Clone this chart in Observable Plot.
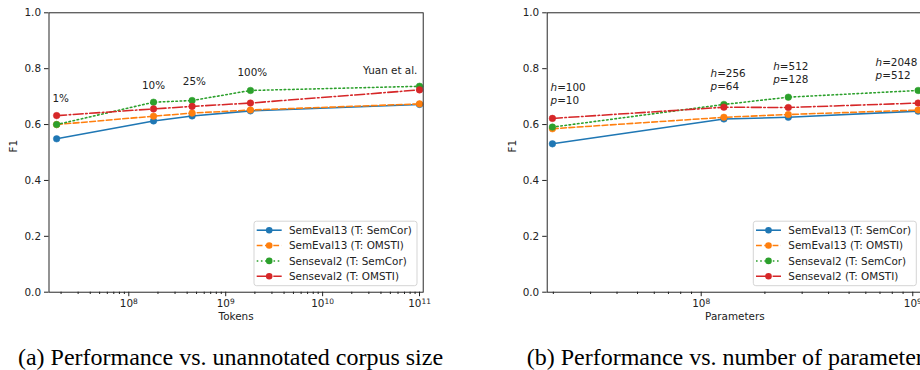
<!DOCTYPE html>
<html><head><meta charset="utf-8">
<script src="https://cdn.jsdelivr.net/npm/d3@7"></script>
<script src="https://cdn.jsdelivr.net/npm/@observablehq/plot@0.6"></script>
<style>
html,body{margin:0;padding:0;overflow:hidden;background:#fff;}
#wrap{position:relative;width:920px;height:370px;overflow:hidden;}
.panel{position:absolute;top:0;}
.panel svg{max-width:none !important;}
.cap{position:absolute;top:345px;font-family:"Liberation Serif","Times New Roman",serif;font-size:24px;line-height:24px;white-space:nowrap;color:#000;}
</style></head>
<body><div id="wrap"></div>
<script>
// ---- data ----
const seriesNames = ["SemEval13 (T: SemCor)", "SemEval13 (T: OMSTI)", "Senseval2 (T: SemCor)", "Senseval2 (T: OMSTI)"];
const seriesColors = ["#1f77b4", "#ff7f0e", "#2ca02c", "#d62728"];
const seriesDash = [undefined, "5.8,2.5", "1.6,2.6", "10,2.5,1.6,2.5"];

const tokens = [1.8e7, 1.8e8, 4.5e8, 1.8e9, 1e11];
const tokenSemEvalSemCor = [0.549, 0.613, 0.631, 0.649, 0.672];
const tokenSemEvalOMSTI  = [0.600, 0.630, 0.641, 0.652, 0.674];
const tokenSensevalSemCor = [0.600, 0.680, 0.686, 0.722, 0.737];
const tokenSensevalOMSTI  = [0.632, 0.656, 0.665, 0.677, 0.724];
const tokenLabels = ["1%", "10%", "25%", "100%", "Yuan et al."];
const tokenLabelX = [1.98e7, 1.8e8, 4.75e8, 1.88e9, 4.98e10];
const tokenLabelY = [0.697, 0.743, 0.757, 0.790, 0.797];

const params = [1.98e7, 1.28e8, 2.58e8, 1.06e9];
const paramSemEvalSemCor = [0.531, 0.620, 0.626, 0.648];
const paramSemEvalOMSTI  = [0.585, 0.626, 0.636, 0.652];
const paramSensevalSemCor = [0.591, 0.672, 0.698, 0.722];
const paramSensevalOMSTI  = [0.622, 0.662, 0.661, 0.677];
const paramLabels = ["h=100\np=10", "h=256\np=64", "h=512\np=128", "h=2048\np=512"];
const paramLabelX = [1.94e7, 1.107e8, 2.19e8, 6.67e8];
const paramLabelY = [0.713, 0.763, 0.788, 0.802];

const yTicks = [0, 0.2, 0.4, 0.6, 0.8, 1.0];
const tokenTicks = [1e8, 1e9, 1e10, 1e11];
const paramTicks = [1e8, 1e9];
const tokenDomain = [Math.pow(10, 7.1765), Math.pow(10, 11.038)];
const paramDomain = [Math.pow(10, 7.272), Math.pow(10, 9.046)];
const xLabels = ["Tokens", "Parameters"];
const yLabel = "F1";
const captions = ["(a) Performance vs. unannotated corpus size", "(b) Performance vs. number of parameters"];

// ---- helpers ----
const fmtPow = d => "10^" + Math.round(Math.log10(d));
function minorTicks(domain) {
  const out = [];
  const k0 = Math.floor(Math.log10(domain[0])), k1 = Math.ceil(Math.log10(domain[1]));
  for (let k = k0; k <= k1; k++) for (let m = 2; m <= 9; m++) {
    const v = m * Math.pow(10, k);
    if (v >= domain[0] && v <= domain[1]) out.push(v);
  }
  return out;
}
const FONT = "DejaVu Sans, sans-serif";
const FS = 10.4;
const H = 340, MT = 12.3, MB = 48.3;

function panel(cfg) {
  const rows = [];
  cfg.ys.forEach((arr, si) => arr.forEach((v, i) => rows.push({s: si, x: cfg.xs[i], y: v})));
  const ann = cfg.labels.map((t, i) => ({t, x: cfg.labelX[i], y: cfg.labelY[i]}));
  const seriesMarks = [];
  seriesNames.forEach((n, si) => {
    const d = rows.filter(r => r.s === si);
    seriesMarks.push(Plot.line(d, {x: "x", y: "y", stroke: seriesColors[si], strokeWidth: 1.55, strokeDasharray: seriesDash[si]}));
    seriesMarks.push(Plot.dot(d, {x: "x", y: "y", r: 3.3, fill: seriesColors[si], stroke: seriesColors[si], strokeWidth: 0.5}));
  });
  const svg = Plot.plot({
    width: cfg.width, height: H,
    marginLeft: cfg.marginLeft, marginRight: cfg.marginRight, marginTop: MT, marginBottom: MB,
    style: {fontFamily: FONT, fontSize: FS + "px", color: "#222", background: "transparent", overflow: "visible", maxWidth: "none"},
    x: {type: "log", domain: cfg.xDomain},
    y: {domain: [0, 1]},
    marks: [
      ...seriesMarks,
      Plot.text(ann, {x: "x", y: "y", text: "t", textAnchor: cfg.anchor, lineAnchor: "middle", lineHeight: 1.25, fill: "#222"}),
      Plot.frame({stroke: "#111", strokeWidth: 0.9}),
      Plot.axisY({ticks: yTicks, tickFormat: d => d.toFixed(1), tickSize: 4.5, tickPadding: 3.5, label: null}),
      Plot.axisX({ticks: minorTicks(cfg.xDomain), tickFormat: () => "", tickSize: 2.3, label: null}),
      Plot.axisX({ticks: cfg.majors, tickFormat: fmtPow, tickSize: 4.5, tickPadding: 3, label: null}),
      Plot.text([cfg.xLabel], {frameAnchor: "bottom", dy: 28, text: d => d, fill: "#222"}),
      Plot.text([yLabel], {frameAnchor: "left", dx: cfg.yLabelDx, rotate: -90, text: d => d, fill: "#222"})
    ]
  });
  svg.style.maxWidth = "none";
  svg.setAttribute("width", cfg.width);
  svg.setAttribute("height", H);
  // italic math letters (h, p)
  d3.select(svg).selectAll("tspan").each(function() {
    const m = this.textContent.match(/^([hp])(=.*)$/);
    if (m) {
      const s = d3.select(this);
      s.text("");
      s.append("tspan").attr("font-style", "italic").text(m[1]);
      s.append("tspan").text(m[2]);
    }
  });
  // power-of-ten tick labels with real superscripts
  d3.select(svg).selectAll("text").each(function() {
    if (this.childElementCount) return;
    const m = this.textContent.match(/^10\^(\d+)$/);
    if (m) {
      const s = d3.select(this);
      s.text("");
      s.append("tspan").text("10");
      s.append("tspan").attr("font-size", "72%").attr("dy", "-0.42em").text(m[1]);
    }
  });
  // legend
  const fr = cfg.width - cfg.marginRight, fb = H - MB;
  const bw = 163, bh = 64.5;
  const bx = fr - 5.7 - bw, by = fb - 6 - bh;
  const g = d3.select(svg).append("g").attr("font-family", FONT).attr("font-size", FS).attr("text-anchor", "start");
  g.append("rect").attr("x", bx).attr("y", by).attr("width", bw).attr("height", bh)
    .attr("rx", 2.5).attr("fill", "#fff").attr("fill-opacity", 0.8).attr("stroke", "#d0d0d0").attr("stroke-width", 0.9);
  seriesNames.forEach((n, i) => {
    const cy = by + 9 + i * 15.35;
    const ln = g.append("line").attr("x1", bx + 2.7).attr("x2", bx + 27.7).attr("y1", cy).attr("y2", cy)
      .attr("stroke", seriesColors[i]).attr("stroke-width", 1.55);
    if (seriesDash[i]) ln.attr("stroke-dasharray", seriesDash[i]);
    g.append("circle").attr("cx", bx + 15.2).attr("cy", cy).attr("r", 3.3).attr("fill", seriesColors[i]);
    g.append("text").attr("x", bx + 35).attr("y", cy).attr("dy", "0.35em").attr("fill", "#222").attr("text-anchor", "start").text(n);
  });
  return svg;
}

const wrap = document.getElementById("wrap");
const left = panel({
  xs: tokens, ys: [tokenSemEvalSemCor, tokenSemEvalOMSTI, tokenSensevalSemCor, tokenSensevalOMSTI],
  labels: tokenLabels, labelX: tokenLabelX, labelY: tokenLabelY, anchor: "middle",
  xDomain: tokenDomain, majors: tokenTicks, xLabel: xLabels[0],
  width: 460, marginLeft: 48.5, marginRight: 37.3, yLabelDx: -35.5
});
const right = panel({
  xs: params, ys: [paramSemEvalSemCor, paramSemEvalOMSTI, paramSensevalSemCor, paramSensevalOMSTI],
  labels: paramLabels, labelX: paramLabelX, labelY: paramLabelY, anchor: "start",
  xDomain: paramDomain, majors: paramTicks, xLabel: xLabels[1],
  width: 480, marginLeft: 86.7, marginRight: 18, yLabelDx: -35
});
const d1 = document.createElement("div"); d1.className = "panel"; d1.style.left = "0px"; d1.style.width = "460px"; d1.appendChild(left); wrap.appendChild(d1);
const d2 = document.createElement("div"); d2.className = "panel"; d2.style.left = "460px"; d2.style.width = "480px"; d2.appendChild(right); wrap.appendChild(d2);
const c1 = document.createElement("div"); c1.className = "cap"; c1.style.left = "0px"; c1.style.width = "461px"; c1.style.textAlign = "center"; c1.textContent = captions[0]; wrap.appendChild(c1);
const c2 = document.createElement("div"); c2.className = "cap"; c2.style.left = "526.7px"; c2.textContent = captions[1]; wrap.appendChild(c2);
</script>
</body></html>
